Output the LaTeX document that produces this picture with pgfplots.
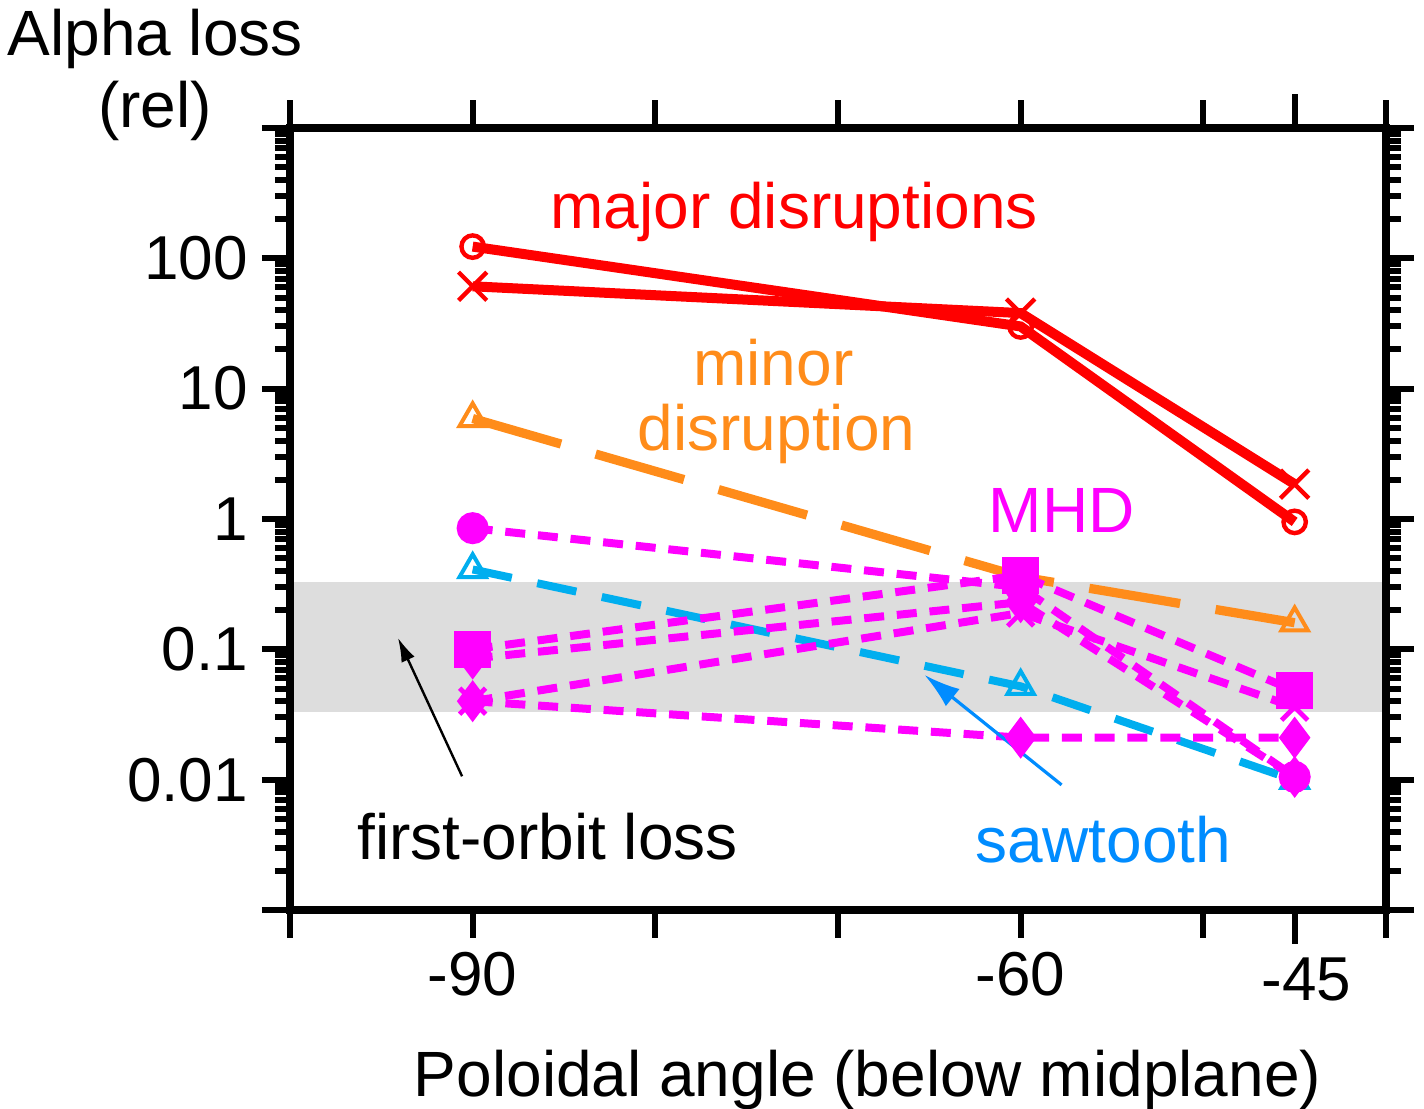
\documentclass[border=0pt]{standalone}
\usepackage{fontspec}
\setmainfont{Liberation Sans}
\usepackage{pgfplots}
\pgfplotsset{compat=1.18}
\usetikzlibrary{arrows.meta}
\definecolor{mred}{RGB}{255,0,0}
\definecolor{morange}{RGB}{255,140,26}
\definecolor{mmag}{RGB}{255,0,255}
\definecolor{mmagl}{RGB}{255,90,255}
\definecolor{mcyan}{RGB}{0,174,239}
\definecolor{mblue}{RGB}{0,140,255}
\definecolor{band}{RGB}{221,221,221}
\begin{document}
\begin{tikzpicture}
\useasboundingbox (-72.5pt,-49.75pt) rectangle (283.5pt,227.5pt);
\begin{axis}[
  at={(0,0)}, anchor=south west,
  scale only axis, width=274pt, height=195.5pt,
  xmin=-100, xmax=-40, ymode=log, ymin=0.001, ymax=1000,
  axis line style={line width=2pt},
  xtick={-100,-90,...,-40}, xticklabels={,-90,,,-60,,},
  extra x ticks={-45}, extra x tick labels={-45},
  extra x tick style={major tick length=8.5pt, xticklabel style={xshift=3pt}},
  ytick={0.001,0.01,0.1,1,10,100,1000}, yticklabels={,0.01,0.1,1,10,100,},
  minor ytick={0.002,0.003,0.004,0.005,0.006,0.007,0.008,0.009,
    0.02,0.03,0.04,0.05,0.06,0.07,0.08,0.09,
    0.2,0.3,0.4,0.5,0.6,0.7,0.8,0.9,
    2,3,4,5,6,7,8,9,20,30,40,50,60,70,80,90,
    200,300,400,500,600,700,800,900},
  tick align=outside,
  major tick length=7pt, minor tick length=3.75pt,
  every tick/.style={black, line width=1.5pt},
  ticklabel style={font=\fontsize{15.5}{18}\selectfont},
  /pgf/number format/assume math mode=true,
  axis on top,
  clip=false,
]
\addplot[draw=none, fill=band, forget plot] coordinates {(-100,0.033) (-40,0.033) (-40,0.33) (-100,0.33)} --cycle;

% minor disruption
\addplot[morange, line width=2.3pt, dash pattern=on 23pt off 9pt, mark=triangle, mark size=3.8pt, mark options={solid, line width=1pt}]
  coordinates {(-90,5.9) (-60,0.36) (-45,0.16)};
% sawtooth
\addplot[mcyan, line width=2pt, dash pattern=on 10pt off 6.5pt, mark=triangle, mark size=3.8pt, mark options={solid, line width=1pt}]
  coordinates {(-90,0.41) (-60,0.052) (-45,0.0099)};

% MHD
\addplot[mmag, line width=2pt, dash pattern=on 5pt off 3.2pt, mark=*, mark size=3pt, mark options={solid}]
  coordinates {(-90,0.85) (-60,0.30) (-45,0.0105)};
\addplot[mmag, line width=2pt, dash pattern=on 5pt off 3.2pt, mark=diamond*, mark size=3.6pt, mark options={solid}]
  coordinates {(-90,0.085) (-60,0.23) (-45,0.0105)};
\addplot[mmag, line width=2pt, dash pattern=on 5pt off 3.2pt, mark=square*, mark size=3.6pt, mark options={solid}]
  coordinates {(-90,0.10) (-60,0.37) (-45,0.048)};
\addplot[mmag, line width=2pt, dash pattern=on 5pt off 3.2pt, mark=x, mark size=4.6pt, mark options={solid, line width=1.2pt}]
  coordinates {(-90,0.04) (-60,0.19) (-45,0.036)};
\addplot[mmag, line width=2pt, dash pattern=on 5pt off 3.2pt, mark=diamond*, mark size=3.6pt, mark options={solid}]
  coordinates {(-90,0.04) (-60,0.021) (-45,0.021)};

% major disruptions
\addplot[mred, line width=2.5pt, mark=o, mark size=2.8pt, mark options={line width=1.1pt}]
  coordinates {(-90,123) (-60,30) (-45,0.95)};
\addplot[mred, line width=2.5pt, mark=x, mark size=5pt, mark options={line width=1.1pt}]
  coordinates {(-90,61) (-60,38) (-45,1.85)};

% annotations
\node[anchor=base, mred, font=\fontsize{16}{19}\selectfont] at (rel axis cs:0.460,0.871) {major disruptions};
\node[anchor=base, morange, font=\fontsize{16}{19}\selectfont] at (rel axis cs:0.441,0.671) {minor};
\node[anchor=base, morange, font=\fontsize{16}{19}\selectfont] at (rel axis cs:0.444,0.588) {disruption};
\node[anchor=base, mmag, font=\fontsize{16}{19}\selectfont] at (rel axis cs:0.704,0.483) {MHD};
\node[anchor=base, black, font=\fontsize{16}{19}\selectfont] at (rel axis cs:0.235,0.064) {first-orbit loss};
\node[anchor=base, mblue, font=\fontsize{16}{19}\selectfont] at (rel axis cs:0.742,0.061) {sawtooth};
\draw[black, line width=0.6pt, -{Latex[length=6pt, width=3.6pt]}] (rel axis cs:0.157,0.171) -- (rel axis cs:0.0985,0.348);
\draw[mblue, line width=0.8pt, -{Latex[length=9pt, width=5.5pt]}] (rel axis cs:0.704,0.160) -- (rel axis cs:0.579,0.3005);

\node[anchor=base, font=\fontsize{16}{19}\selectfont] at (rel axis cs:-0.123,1.093) {Alpha loss};
\node[anchor=base, font=\fontsize{16}{19}\selectfont] at (rel axis cs:-0.123,1.000) {(rel)};
\node[anchor=base, font=\fontsize{16}{19}\selectfont] at (rel axis cs:0.527,-0.238) {Poloidal angle (below midplane)};
\end{axis}
\end{tikzpicture}
\end{document}
